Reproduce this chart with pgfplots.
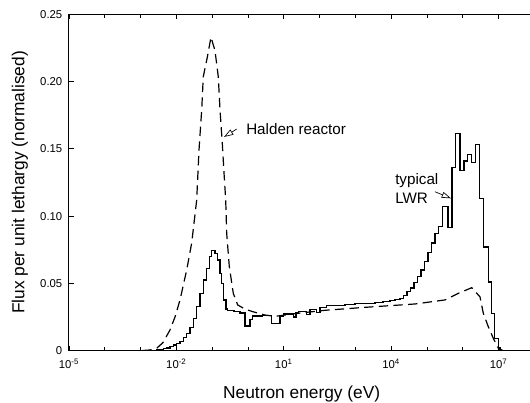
\documentclass[border=0pt]{standalone}
\usepackage{pgfplots}
\usepackage{pgfplotstable}
\pgfplotsset{compat=1.18}
\usepackage{fontspec}
\setmainfont{Liberation Sans}
\usetikzlibrary{arrows.meta}

% typical LWR: left bin edge log10(E/eV) and flux per unit lethargy
\pgfplotstableread{
L y
-5.000 0
-2.737 0
-2.645 0.0004
-2.550 0.0007
-2.458 0.0010
-2.366 0.0015
-2.271 0.0020
-2.179 0.0030
-2.087 0.0042
-1.992 0.0055
-1.899 0.0070
-1.807 0.0095
-1.712 0.0125
-1.620 0.0174
-1.528 0.0240
-1.433 0.0327
-1.341 0.0426
-1.249 0.0525
-1.154 0.0612
-1.081 0.0698
-1.025 0.0743
-0.922 0.0723
-0.846 0.0674
-0.782 0.0575
-0.735 0.0500
-0.690 0.0377
-0.615 0.0310
-0.567 0.0297
-0.391 0.0290
-0.223 0.0280
-0.084 0.0184
0.056 0.0233
0.131 0.0258
0.391 0.0260
0.662 0.0203
0.894 0.0258
0.986 0.0273
1.265 0.0250
1.341 0.0282
1.405 0.0290
1.536 0.0292
1.640 0.0270
1.732 0.0305
1.919 0.0282
2.011 0.0320
2.198 0.0334
2.430 0.0336
2.709 0.0343
2.989 0.0348
3.268 0.0353
3.547 0.0358
3.771 0.0366
3.966 0.0375
4.106 0.0382
4.246 0.0390
4.344 0.0410
4.441 0.0438
4.539 0.0465
4.637 0.0505
4.735 0.0550
4.832 0.0600
4.930 0.0660
5.028 0.0730
5.126 0.0800
5.223 0.0870
5.321 0.0920
5.433 0.1070
5.587 0.0917
5.698 0.1360
5.802 0.1615
5.922 0.1340
6.034 0.1410
6.126 0.1460
6.249 0.1400
6.360 0.1530
6.461 0.1130
6.573 0.0770
6.712 0.0510
6.807 0.0278
6.880 0.0092
6.992 0.0020
7.039 0
8.000 0
}\lwr

% Halden reactor
\pgfplotstableread{
L y
-5.000 0
-3.017 0
-2.737 0.0005
-2.542 0.0020
-2.374 0.0060
-2.179 0.0154
-2.039 0.0250
-1.899 0.0377
-1.712 0.0600
-1.573 0.0800
-1.433 0.1120
-1.369 0.1490
-1.293 0.1790
-1.249 0.2036
-1.137 0.2180
-1.034 0.2330
-0.922 0.2230
-0.830 0.2036
-0.782 0.1790
-0.718 0.1540
-0.670 0.1320
-0.623 0.1120
-0.595 0.0870
-0.522 0.0624
-0.411 0.0426
-0.288 0.0340
-0.092 0.0310
0.131 0.0290
0.475 0.0265
0.754 0.0255
1.405 0.0278
2.151 0.0300
3.268 0.0322
4.665 0.0347
5.503 0.0377
5.874 0.0426
6.249 0.0468
6.480 0.0400
6.573 0.0278
6.712 0.0178
6.852 0.0092
6.992 0.0018
7.123 0
8.000 0
}\halden

\begin{document}
\begin{tikzpicture}
\begin{axis}[
  scale only axis,
  width=349.05pt, height=252.3pt,
  xmode=log,
  xmin=1e-5, xmax=1e8,
  ymin=0, ymax=0.25,
  axis line style={line width=0.75pt},
  tick align=inside,
  major tick length=3.5pt,
  minor tick length=3pt,
  tick style={line width=0.6pt, black},
  xtick={1e-5,1e-2,1e1,1e4,1e7},
  xticklabels={10\textsuperscript{-5},10\textsuperscript{-2},10\textsuperscript{1},10\textsuperscript{4},10\textsuperscript{7}},
  minor xtick={1e-4,1e-3,1e-1,1,1e2,1e3,1e5,1e6},
  ytick={0,0.05,0.1,0.15,0.2,0.25},
  yticklabels={0,0.05,0.10,0.15,0.20,0.25},
  /pgf/number format/assume math mode=true,
  yticklabel style={font=\fontsize{8.5}{10}\selectfont, anchor=east, xshift=-1.5pt},
  xticklabel style={font=\fontsize{8.5}{10}\selectfont, anchor=base, yshift=-13.2pt},
  xlabel={Neutron energy (eV)},
  ylabel={Flux per unit lethargy (normalised)},
  xlabel style={font=\fontsize{13}{15}\selectfont, at={(axis description cs:0.5,-0.1435)}, anchor=base},
  ylabel style={font=\fontsize{13}{15}\selectfont, at={(axis description cs:-0.0957,0.5)}, anchor=base},
]
\addplot[const plot, black, line width=0.9pt] table[x expr=10^\thisrow{L}, y=y] {\lwr};
\addplot[black, line width=0.9pt, dash pattern=on 7pt off 4pt] table[x expr=10^\thisrow{L}, y=y] {\halden};

\node[anchor=base west, font=\fontsize{11.4}{13.7}\selectfont, inner sep=0pt] at (axis cs:0.879,0.1606) {Halden reactor};
\draw[-{Triangle[open,length=7pt,width=4.5pt]}, line width=0.5pt] (axis cs:0.483,0.1647) -- (axis cs:0.2138,0.1588);

\node[anchor=base west, font=\fontsize{11.4}{13.7}\selectfont, inner sep=0pt] at (axis cs:12770,0.1236) {typical};
\node[anchor=base west, font=\fontsize{11.4}{13.7}\selectfont, inner sep=0pt] at (axis cs:12770,0.1095) {LWR};
\draw[-{Triangle[open,length=7pt,width=4.5pt]}, line width=0.5pt] (axis cs:167100,0.1181) -- (axis cs:467700,0.1132);
\end{axis}
\pgfresetboundingbox
\path[use as bounding box] (-51.75pt,-39.2pt) rectangle (345.75pt,263pt);
\end{tikzpicture}
\end{document}
